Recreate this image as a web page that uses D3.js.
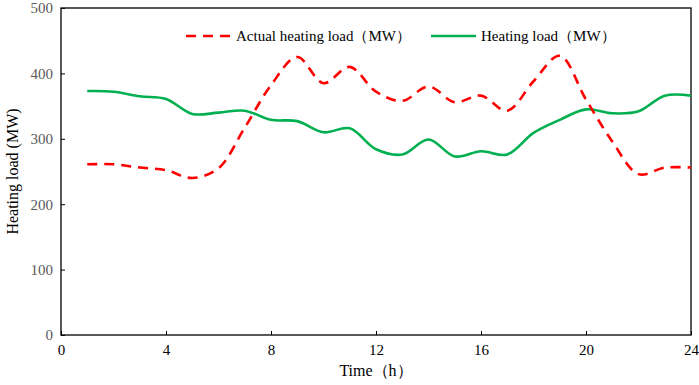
<!DOCTYPE html>
<html>
<head>
<meta charset="utf-8">
<script src="https://cdn.jsdelivr.net/npm/d3@7"></script>
<style>
  html, body { margin: 0; padding: 0; background: #fff; }
  svg { display: block; font-family: "Liberation Serif", "Times New Roman", serif; }
</style>
</head>
<body>
<div id="chart"></div>
<script>
const hours = d3.range(1, 25);
const actualLoad = [261, 261, 256, 252, 240, 255, 317, 382, 425, 385, 410, 372, 358, 380, 356, 366, 343, 388, 427, 360, 296, 246, 256, 256];
const heatingLoad = [373, 372, 365, 361, 338, 340, 343, 329, 327, 310, 316, 284, 276, 299, 273, 281, 276, 309, 329, 345, 339, 342, 366, 366];
const xTicks = [0, 4, 8, 12, 16, 20, 24];
const yTicks = [0, 100, 200, 300, 400, 500];
const seriesNames = ["Actual heating load（MW）", "Heating load（MW）"];

const width = 699, height = 385;
const margin = { top: 8, right: 8, bottom: 50, left: 61 };

const svg = d3.select("#chart").append("svg").attr("width", width).attr("height", height);

const x = d3.scaleLinear().domain([0, 24]).range([margin.left, width - margin.right]);
const y = d3.scaleLinear().domain([0, 500]).range([height - margin.bottom, margin.top]);

// frame
svg.append("rect")
  .attr("x", x(0)).attr("y", y(500))
  .attr("width", x(24) - x(0)).attr("height", y(0) - y(500))
  .attr("fill", "none").attr("stroke", "#000").attr("stroke-width", 1.3);

const xAxis = svg.append("g").attr("transform", `translate(0,${y(0)})`)
  .call(d3.axisBottom(x).tickValues(xTicks).tickSize(-4).tickPadding(9));
xAxis.select(".domain").remove();
xAxis.selectAll("text").attr("font-size", 15).attr("fill", "#000").attr("font-family", "Liberation Serif");
xAxis.selectAll("line").attr("stroke", "#000");

const yAxis = svg.append("g").attr("transform", `translate(${x(0)},0)`)
  .call(d3.axisLeft(y).tickValues(yTicks).tickSize(-4).tickPadding(8));
yAxis.select(".domain").remove();
yAxis.selectAll("text").attr("font-size", 15).attr("fill", "#595959").attr("font-family", "Liberation Serif");
yAxis.selectAll("line").attr("stroke", "#000");

// lines
const line = d3.line().x((d, i) => x(hours[i])).y((d) => y(d)).curve(d3.curveCatmullRom.alpha(0.5));

svg.append("path").datum(heatingLoad).attr("d", line)
  .attr("fill", "none").attr("stroke", "#00b050").attr("stroke-width", 2.6);

svg.append("path").datum(actualLoad).attr("d", line)
  .attr("fill", "none").attr("stroke", "#ff0000").attr("stroke-width", 2.6)
  .attr("stroke-dasharray", "10,7");

// legend
const legend = svg.append("g").attr("font-size", 15);
const legendItems = [
  { name: seriesNames[0], color: "#ff0000", dash: "10,7", x0: 186 },
  { name: seriesNames[1], color: "#00b050", dash: null, x0: 431 }
];
legendItems.forEach((item) => {
  legend.append("line")
    .attr("x1", item.x0).attr("x2", item.x0 + 45)
    .attr("y1", 36).attr("y2", 36)
    .attr("stroke", item.color).attr("stroke-width", 2.6)
    .attr("stroke-dasharray", item.dash);
  legend.append("text").attr("x", item.x0 + 50).attr("y", 41).text(item.name);
});

// axis titles
svg.append("text").attr("x", x(12)).attr("y", 376).attr("text-anchor", "middle")
  .attr("font-size", 16).text("Time（h）");
svg.append("text").attr("transform", `translate(18,${y(250)}) rotate(-90)`)
  .attr("text-anchor", "middle").attr("font-size", 16).text("Heating load (MW)");
</script>
</body>
</html>
